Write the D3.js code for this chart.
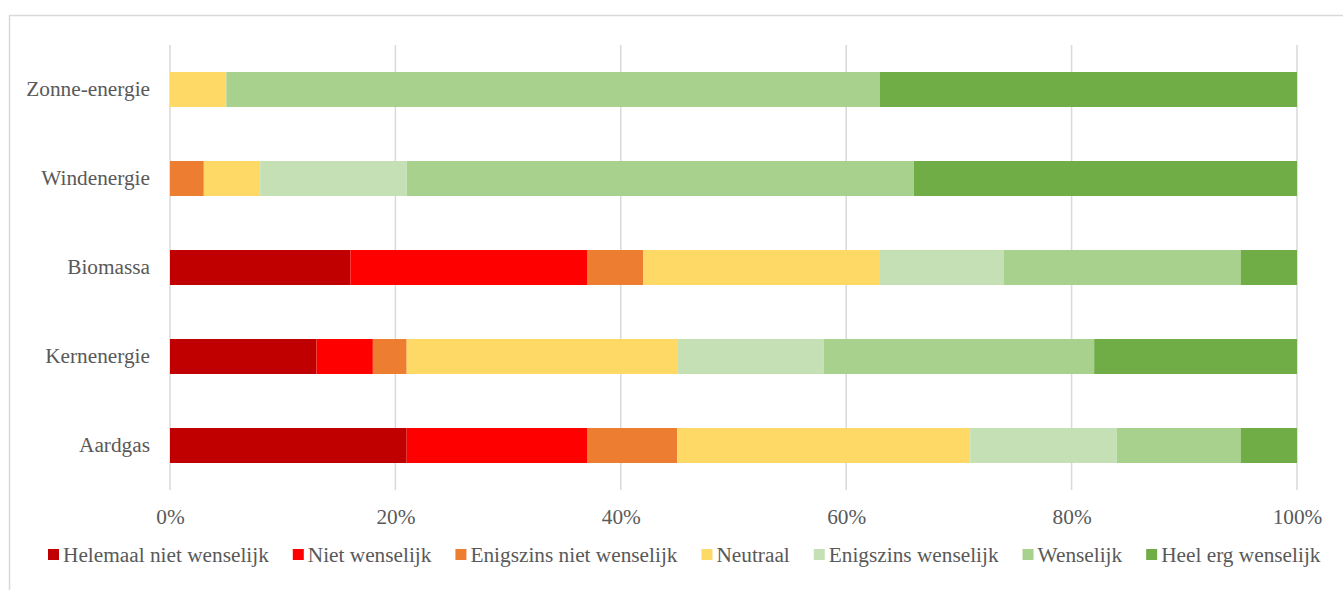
<!DOCTYPE html>
<html><head><meta charset="utf-8">
<script src="https://cdn.jsdelivr.net/npm/d3@7"></script>
<style>html,body{margin:0;padding:0;background:#fff;} svg{display:block;}</style>
</head><body>
<script>
const categories = ["Zonne-energie","Windenergie","Biomassa","Kernenergie","Aardgas"];
const seriesNames = ["Helemaal niet wenselijk","Niet wenselijk","Enigszins niet wenselijk","Neutraal","Enigszins wenselijk","Wenselijk","Heel erg wenselijk"];
const seriesColors = ["#C00000","#FF0000","#ED7D31","#FFD966","#C5E0B4","#A9D18E","#70AD47"];
// values per series, in order of categories (percent)
const helemaalNiet = [0, 0, 16, 13, 21];
const nietWens     = [0, 0, 21, 5, 16];
const enigszinsNiet= [0, 3, 5, 3, 8];
const neutraal     = [5, 5, 21, 24, 26];
const enigszinsWens= [0, 13, 11, 13, 13];
const wenselijk    = [58, 45, 21, 24, 11];
const heelErg      = [37, 34, 5, 18, 5];
const tickValues = [0, 20, 40, 60, 80, 100];

const seriesValues = [helemaalNiet, nietWens, enigszinsNiet, neutraal, enigszinsWens, wenselijk, heelErg];
const W = 1343, H = 590;
const svg = d3.select("body").append("svg").attr("width", W).attr("height", H);
const font = "'Liberation Serif','Times New Roman',serif";
const textColor = "#595959";
const fs = 21.3;

svg.append("rect").attr("x", 9.5).attr("y", 15.5).attr("width", W).attr("height", H)
  .attr("fill", "none").attr("stroke", "#d9d9d9").attr("stroke-width", 1.5);

const x = d3.scaleLinear().domain([0, 100]).range([170, 1297]);
const y = d3.scaleBand().domain(categories).range([45, 490]).paddingInner(0.607).paddingOuter(0.3035);

// gridlines
svg.append("g").selectAll("line").data(tickValues).join("line")
  .attr("x1", d => x(d)).attr("x2", d => x(d)).attr("y1", 45).attr("y2", 490)
  .attr("stroke", "#d9d9d9").attr("stroke-width", 1.5);

// stacked data
const rows = categories.map((c, i) => {
  const o = {cat: c};
  seriesNames.forEach((s, j) => o[s] = seriesValues[j][i]);
  return o;
});
const stack = d3.stack().keys(seriesNames)(rows);
svg.append("g").selectAll("g").data(stack).join("g")
  .attr("fill", (d, i) => seriesColors[i])
  .selectAll("rect").data(d => d).join("rect")
  .attr("x", d => x(d[0])).attr("width", d => x(d[1]) - x(d[0]))
  .attr("y", d => y(d.data.cat)).attr("height", y.bandwidth());

// x axis labels
const xAxis = d3.axisBottom(x).tickValues(tickValues).tickFormat(d => d + "%").tickSize(0).tickPadding(0);
const gx = svg.append("g").attr("transform", "translate(0,524)").call(xAxis);
gx.select(".domain").remove();
gx.selectAll("text").attr("font-family", font).attr("font-size", fs).attr("fill", textColor).attr("y", 0).attr("dy", 0);

// y axis labels
const yAxis = d3.axisLeft(y).tickSize(0).tickPadding(0);
const gy = svg.append("g").attr("transform", "translate(150,0)").call(yAxis);
gy.select(".domain").remove();
gy.selectAll("text").attr("font-family", font).attr("font-size", fs).attr("fill", textColor);

// legend
const lg = svg.append("g").attr("transform", "translate(48,562)");
let lx = 0;
seriesNames.forEach((s, i) => {
  const g = lg.append("g").attr("transform", `translate(${lx},0)`);
  g.append("rect").attr("x", 0).attr("y", -13).attr("width", 11).attr("height", 11).attr("fill", seriesColors[i]);
  const t = g.append("text").attr("x", 15).attr("y", 0)
    .attr("font-family", font).attr("font-size", fs).attr("fill", textColor).text(s);
  lx += 15 + t.node().getComputedTextLength() + 24;
});
</script>
</body></html>
